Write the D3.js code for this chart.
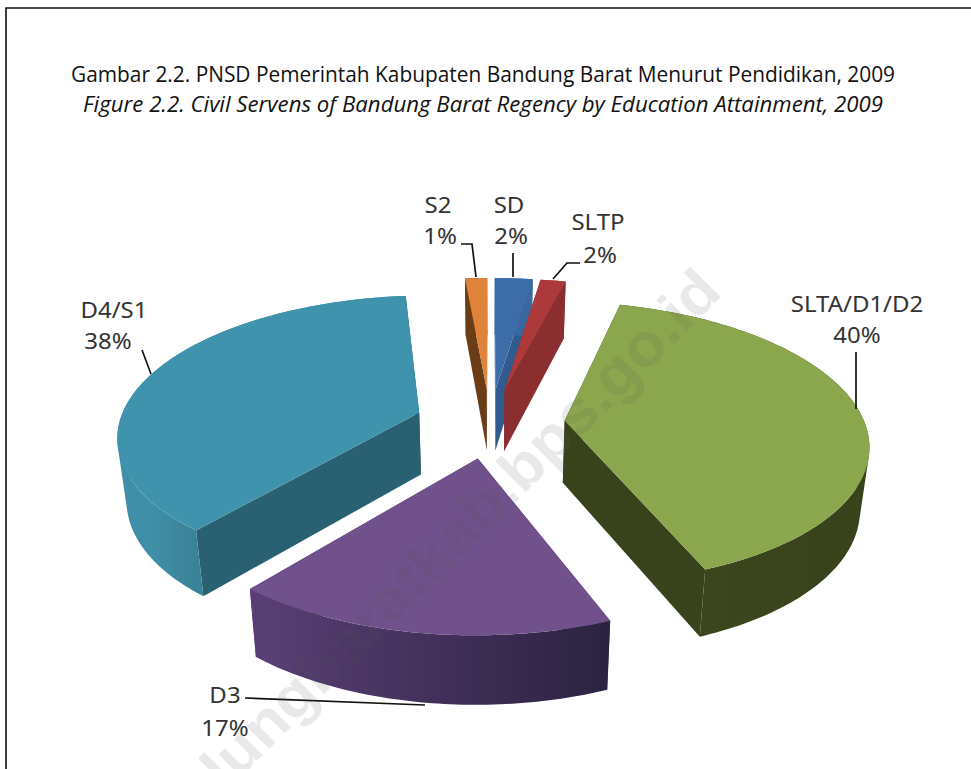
<!DOCTYPE html>
<html><head><meta charset="utf-8">
<script src="https://cdn.jsdelivr.net/npm/d3@7"></script>
<style>html,body{margin:0;padding:0;background:#fff}svg{display:block}</style>
</head><body><svg id="c" width="971" height="769"></svg>
<script>
// ---- data ----
const categories = ["SD","SLTP","SLTA/D1/D2","D3","D4/S1","S2"];
const values = [2.4,1.6,40,17,37.6,1.4];
const percentLabels = ["2%","2%","40%","17%","38%","1%"];
const titleLines = ["Gambar 2.2. PNSD Pemerintah Kabupaten Bandung Barat Menurut Pendidikan, 2009",
                    "Figure 2.2. Civil Servens of Bandung Barat Regency by Education Attainment, 2009"];
const topColors  = ["#3D6DA8","#AD3A3A","#8AA74E","#70518B","#3F93AC","#E0833A"];
const wallColors = ["#2F5B8F","#8A2E30","#38431C","#54396E","#2A6172","#6A3D17"];
const outerFrom  = ["#3A679E","#8A2E30","#38431C","#2B2240","#3A8297","#6A3D17"];
const outerTo    = ["#3A679E","#8A2E30","#3A461C","#5A3F76","#3F8FA8","#6A3D17"];
const drawOrder = [5,0,1,4,2,3];

// ---- layout ----
const W=971,H=769, cx=490, cy=423, ax=300, by=138, persp=0.152, explode=0.25;
const svg=d3.select("#c");
const defs=svg.append("defs");
const pie=d3.pie().sort(null).value(v=>v)(values);
const proj=(u,v)=>{const s=1/(1+persp*v);return [cx+ax*u*s, cy-by*v*s, s];};
const ptTop=(a,r,o)=>proj(r*Math.sin(a)+o[0], r*Math.cos(a)+o[1]);
const ptBot=(a,r,o)=>{const p=ptTop(a,r,o);return [cx+(p[0]-cx)*0.975, p[1]+30+32*p[2]];};
const line=d3.line();
const xy=p=>[p[0],p[1]];

// frame
svg.append("path").attr("d","M6,769 V8 H971").attr("fill","none").attr("stroke","#111").attr("stroke-width",1.6);

// titles
const tg=svg.append("g").attr("font-family","'Open Sans'").attr("fill","#111").attr("font-size",22);
tg.append("text").attr("x",71).attr("y",82).attr("textLength",824).attr("lengthAdjust","spacingAndGlyphs").text(titleLines[0]);
tg.append("text").attr("x",83).attr("y",112).attr("textLength",800).attr("lengthAdjust","spacingAndGlyphs").attr("font-style","italic").text(titleLines[1]);

// slices
const sliceG=svg.append("g");
drawOrder.forEach(i=>{
  const d=pie[i], mid=(d.startAngle+d.endAngle)/2;
  const o=[explode*Math.sin(mid),explode*Math.cos(mid)];
  const g=sliceG.append("g").attr("class","slice");
  const n=Math.max(4,Math.ceil((d.endAngle-d.startAngle)/(Math.PI/180)));
  const angs=d3.range(n+1).map(k=>d.startAngle+(d.endAngle-d.startAngle)*k/n);
  const apexT=ptTop(0,0,o), apexB=ptBot(0,0,o);
  // radial walls
  [d.startAngle,d.endAngle].forEach(a=>{
    const q=[apexT,ptTop(a,1,o),ptBot(a,1,o),apexB];
    g.append("path").attr("d",line(q.map(xy))+"Z").attr("fill",wallColors[i]);
  });
  // outer wall: union of consistently wound quads, horizontal gradient across its front part
  const vis=angs.filter(a=>Math.cos(a)<0.3);
  const ends=vis.length>1?vis:angs;
  const x0=ptTop(ends[0],1,o)[0], x1=ptTop(ends[ends.length-1],1,o)[0];
  const id="g"+i;
  const lg0=defs.append("linearGradient").attr("id",id).attr("gradientUnits","userSpaceOnUse")
    .attr("x1",x0).attr("x2",x1).attr("y1",0).attr("y2",0);
  lg0.append("stop").attr("offset",0).attr("stop-color",outerFrom[i]);
  lg0.append("stop").attr("offset",1).attr("stop-color",outerTo[i]);
  let dPath="";
  for(let k=0;k<n;k++){
    let q=[ptTop(angs[k],1,o),ptTop(angs[k+1],1,o),ptBot(angs[k+1],1,o),ptBot(angs[k],1,o)].map(xy);
    if(d3.polygonArea(q)<0) q=q.reverse();
    dPath+=line(q)+"Z";
  }
  g.append("path").attr("d",dPath).attr("fill",`url(#${id})`);
  // top face
  const top=[apexT].concat(angs.map(a=>ptTop(a,1,o)));
  g.append("path").attr("d",line(top.map(xy))+"Z").attr("fill",topColors[i]);
});

// leaders
const leaders=[[[513,253],[513,277]],[[580,263],[567,263],[553,279]],[[856,352],[856,409]],[[245,698],[425,705]],[[142,350],[151,374]],[[461,244],[472,244],[476,277]]];
svg.append("g").selectAll("path").data(leaders).join("path").attr("d",line).attr("fill","none").attr("stroke","#111").attr("stroke-width",1.7);

// labels: name x, name baseline, percent x, percent baseline
const labelPos=[[509,213,511,244],[598,230,600,263],[857,312,857,343],[225,703,225,736],[114,318,108,349],[438,213,440,244]];
const lg=svg.append("g").attr("font-family","'Noto Sans'").attr("font-size",22).attr("fill","#333").attr("text-anchor","middle");
categories.forEach((c,i)=>{
  const p=labelPos[i];
  [[c,p[0],p[1]],[percentLabels[i],p[2],p[3]]].forEach(t=>{
    const e=lg.append("text").attr("x",t[1]).attr("y",t[2]).text(t[0]);
    const len=e.node().getComputedTextLength();
    e.attr("textLength",len*1.09).attr("lengthAdjust","spacingAndGlyphs");
  });
});

// watermark
svg.append("text").attr("transform","translate(130,888) rotate(-45)").attr("font-family","'Liberation Sans'").attr("font-weight","bold").attr("font-size",60)
 .attr("fill","#555").attr("fill-opacity",.13).text("bandungbaratkab.bps.go.id").attr("textLength",840).attr("lengthAdjust","spacingAndGlyphs");
</script></body></html>
